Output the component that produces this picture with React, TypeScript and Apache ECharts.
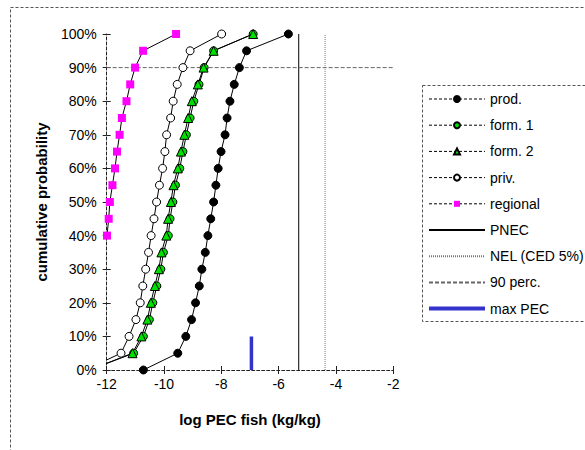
import React, { useEffect, useRef } from "react";
import * as echarts from "echarts";

const probs = [0, 5, 10, 15, 20, 25, 30, 35, 40, 45, 50, 55, 60, 65, 70, 75, 80, 85, 90, 95, 100];

const prodX = [-10.72, -9.52, -9.24, -9.04, -8.9, -8.77, -8.68, -8.56, -8.47, -8.37, -8.27, -8.19, -8.11, -8.01, -7.87, -7.8, -7.7, -7.55, -7.37, -7.12, -5.66];
const form1X = [-12.6, -11.06, -10.72, -10.51, -10.39, -10.25, -10.11, -10.02, -9.85, -9.79, -9.69, -9.6, -9.45, -9.34, -9.22, -9.09, -8.96, -8.78, -8.6, -8.27, -6.89];
const form2X = [-12.6, -11.1, -10.79, -10.58, -10.46, -10.32, -10.18, -10.09, -9.92, -9.86, -9.76, -9.67, -9.52, -9.41, -9.29, -9.16, -9.03, -8.82, -8.62, -8.27, -6.89];
const privX = [-12.75, -11.5, -11.22, -10.98, -10.83, -10.74, -10.64, -10.54, -10.45, -10.35, -10.26, -10.16, -10.05, -9.97, -9.91, -9.77, -9.68, -9.54, -9.34, -9.09, -7.99];
const regionalX = [-13.6, -13.3, -13.0, -12.8, -12.6, -12.45, -12.3, -12.12, -11.99, -11.93, -11.89, -11.8, -11.71, -11.64, -11.55, -11.47, -11.31, -11.18, -11.01, -10.73, -9.58];

const pnecX = -5.3;
const nelX = -4.38;
const perc90 = 90;
const maxPecX = -6.95;
const maxPecTop = 10;

const xTicks = { min: -12, max: -2, interval: 2 };
const yTicks = { min: 0, max: 100, interval: 10 };

const FONT = "'Liberation Sans', Arial, sans-serif";

function pairs(xs: number[]) {
  return xs.map((x, i) => [x, probs[i]]);
}

export default function App() {
  const ref = useRef<HTMLDivElement>(null);
  useEffect(() => {
    if (!ref.current) return;
    const chart = echarts.init(ref.current, undefined, { renderer: "svg" });
    const dataLine = { color: "#000", width: 1 };
    const legendDash = { type: [3, 2] as any, color: "#000", width: 1 };
    const noMarker = { opacity: 0 };
    chart.setOption({
      animation: false,
      backgroundColor: "#fff",
      textStyle: { fontFamily: FONT },
      grid: { left: 106.7, right: 191.7, top: 34, bottom: 80, containLabel: false },
      legend: {
        orient: "vertical",
        left: 427,
        top: 91,
        padding: 0,
        itemWidth: 56,
        itemHeight: 7.5,
        itemGap: 10.2,
        textStyle: { fontFamily: FONT, fontSize: 14, color: "#000", lineHeight: 16 },
        data: [
          { name: "prod.", lineStyle: legendDash },
          { name: "form. 1", lineStyle: legendDash },
          { name: "form. 2", lineStyle: legendDash },
          { name: "priv.", lineStyle: legendDash },
          { name: "regional", lineStyle: legendDash },
          { name: "PNEC", itemStyle: noMarker },
          { name: "NEL (CED 5%)", itemStyle: noMarker },
          { name: "90 perc.", itemStyle: noMarker },
          { name: "max PEC", itemStyle: noMarker, lineStyle: { color: "#3333CC", width: 4 } },
        ],
      },
      xAxis: [
        {
          type: "value",
          min: xTicks.min,
          max: xTicks.max,
          interval: xTicks.interval,
          name: "log PEC fish (kg/kg)",
          nameLocation: "middle",
          nameGap: 42,
          nameTextStyle: { fontFamily: FONT, fontSize: 15, fontWeight: "bold", color: "#000" },
          axisLine: { show: true, onZero: false, lineStyle: { color: "#222", type: [3, 2] } },
          axisTick: { show: true, length: 4, lineStyle: { color: "#222" } },
          axisLabel: { fontFamily: FONT, fontSize: 14, color: "#000", margin: 7 },
          splitLine: { show: false },
        },
        {
          type: "value",
          position: "bottom",
          min: xTicks.min,
          max: xTicks.max,
          interval: xTicks.interval,
          axisLine: { show: false, onZero: false },
          axisTick: { show: true, inside: true, length: 4, lineStyle: { color: "#222" } },
          axisLabel: { show: false },
          splitLine: { show: false },
        },
      ],
      yAxis: [
        {
          type: "value",
          min: yTicks.min,
          max: yTicks.max,
          interval: yTicks.interval,
          name: "cumulative probability",
          nameLocation: "middle",
          nameGap: 58,
          nameTextStyle: { fontFamily: FONT, fontSize: 15, fontWeight: "bold", color: "#000" },
          axisLine: { show: true, onZero: false, lineStyle: { color: "#222", type: [3, 2] } },
          axisTick: { show: true, length: 4, lineStyle: { color: "#222" } },
          axisLabel: { fontFamily: FONT, fontSize: 14, color: "#000", margin: 10, formatter: "{value}%" },
          splitLine: { show: false },
        },
        {
          type: "value",
          position: "left",
          min: yTicks.min,
          max: yTicks.max,
          interval: yTicks.interval,
          axisLine: { show: false, onZero: false },
          axisTick: { show: true, inside: true, length: 4, lineStyle: { color: "#222" } },
          axisLabel: { show: false },
          splitLine: { show: false },
        },
      ],
      graphic: [
        {
          type: "rect",
          silent: true,
          z: -10,
          shape: { x: 10.5, y: 7.5, width: 700, height: 600 },
          style: { fill: "none", stroke: "#555", lineWidth: 1, lineDash: [3, 2] },
        },
        {
          type: "rect",
          silent: true,
          z: -10,
          shape: { x: 422.5, y: 85.5, width: 200, height: 236 },
          style: { fill: "#fff", stroke: "#555", lineWidth: 1, lineDash: [3, 2] },
        },
      ],
      series: [
        {
          name: "PNEC",
          type: "line",
          data: [[pnecX, yTicks.min], [pnecX, yTicks.max]],
          symbol: "none",
          lineStyle: { color: "#000", width: 1, type: "solid" },
          itemStyle: { color: "#000" },
          z: 1,
        },
        {
          name: "NEL (CED 5%)",
          type: "line",
          data: [[nelX, yTicks.min], [nelX, yTicks.max]],
          symbol: "none",
          lineStyle: { color: "#777", width: 1, type: [1, 1] },
          itemStyle: { color: "#777" },
          z: 1,
        },
        {
          name: "90 perc.",
          type: "line",
          data: [[xTicks.min, perc90], [xTicks.max, perc90]],
          symbol: "none",
          lineStyle: { color: "#666", width: 1, type: [4, 2] },
          itemStyle: { color: "#666" },
          z: 1,
        },
        {
          name: "max PEC",
          type: "line",
          data: [[maxPecX, 0], [maxPecX, maxPecTop]],
          symbol: "none",
          lineStyle: { color: "#3333CC", width: 3.5 },
          itemStyle: { color: "#3333CC" },
          z: 1,
        },
        {
          name: "prod.",
          type: "line",
          data: pairs(prodX),
          symbol: "circle",
          symbolSize: 8,
          lineStyle: dataLine,
          itemStyle: { color: "#000", borderColor: "#000", borderWidth: 1 },
          z: 3,
        },
        {
          name: "form. 1",
          type: "line",
          data: pairs(form1X),
          symbol: "circle",
          symbolSize: 8,
          lineStyle: dataLine,
          itemStyle: { color: "#00E000", borderColor: "#000", borderWidth: 1 },
          z: 3,
        },
        {
          name: "form. 2",
          type: "line",
          data: pairs(form2X),
          symbol: "triangle",
          symbolSize: 9,
          lineStyle: dataLine,
          itemStyle: { color: "#00E000", borderColor: "#000", borderWidth: 1 },
          z: 3,
        },
        {
          name: "priv.",
          type: "line",
          data: pairs(privX),
          symbol: "circle",
          symbolSize: 8,
          lineStyle: dataLine,
          itemStyle: { color: "#fff", borderColor: "#000", borderWidth: 1 },
          z: 3,
        },
        {
          name: "regional",
          type: "line",
          data: pairs(regionalX),
          symbol: "rect",
          symbolSize: 8,
          lineStyle: dataLine,
          itemStyle: { color: "#FF00FF", borderWidth: 0 },
          z: 3,
        },
      ],
    });
    return () => chart.dispose();
  }, []);
  return (
    <div
      ref={ref}
      style={{ position: "fixed", left: 0, top: 0, width: 585, height: 450, background: "#fff" }}
    />
  );
}
